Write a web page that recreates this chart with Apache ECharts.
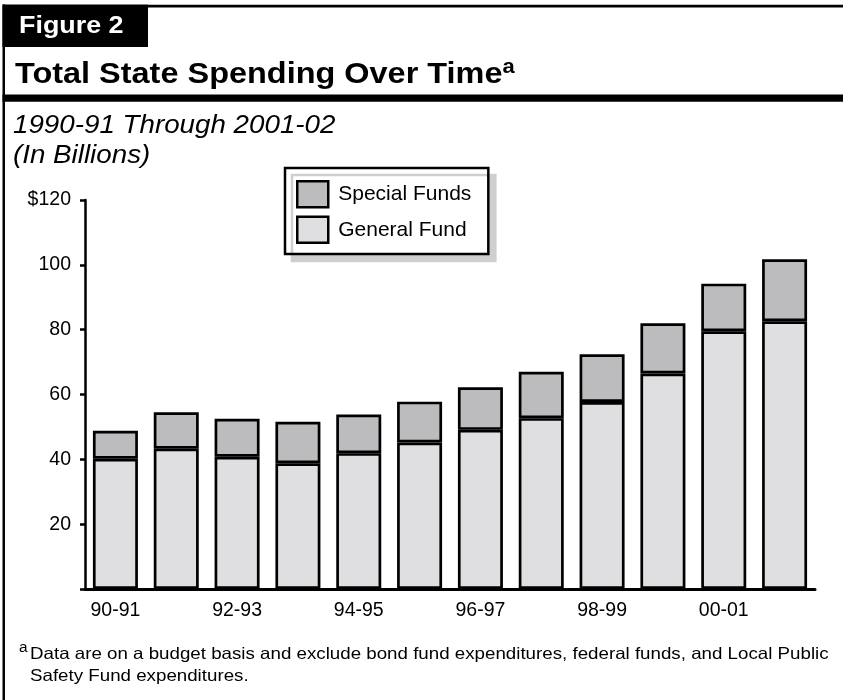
<!DOCTYPE html>
<html>
<head>
<meta charset="utf-8">
<script src="https://cdn.jsdelivr.net/npm/echarts@6/dist/echarts.min.js"></script>
<style>
  html, body { margin: 0; padding: 0; background: #fff; }
  #chart { width: 843px; height: 700px; }
</style>
</head>
<body>
<div id="chart"></div>
<script>
// Fiscal years, 1990-91 through 2001-02
const categories = ['90-91', '91-92', '92-93', '93-94', '94-95', '95-96',
                    '96-97', '97-98', '98-99', '99-00', '00-01', '01-02'];
// Spending in billions of dollars
const generalFund  = [40.2, 43.3, 40.8, 38.8, 41.9, 45.2, 49.1, 52.7, 57.7, 66.5, 79.5, 82.6];
const specialFunds = [8.6, 11.2, 11.7, 12.8, 11.9, 12.6, 13.1, 14.3, 14.7, 15.5, 14.7, 19.1];
// Value axis range and step
const yMin = 0, yMax = 120, yStep = 20;

const FONT = '"Liberation Sans", Arial, Helvetica, sans-serif';

const chart = echarts.init(document.getElementById('chart'), null, { renderer: 'canvas' });

chart.setOption({
  animation: false,
  backgroundColor: '#ffffff',
  textStyle: { fontFamily: FONT, color: '#000' },
  grid: { left: 85, right: 28, top: 200, bottom: 111, containLabel: false },
  legend: {
    data: ['Special Funds', 'General Fund'],
    orient: 'vertical',
    left: 285,
    top: 168,
    padding: [12, 17, 10, 11],
    itemWidth: 31,
    itemHeight: 26,
    itemGap: 7,
    backgroundColor: '#ffffff',
    borderColor: '#000',
    borderWidth: 2.5,
    borderRadius: 0,
    shadowColor: '#cfcfcf',
    shadowBlur: 0,
    shadowOffsetX: 7,
    shadowOffsetY: 7,
    selectedMode: false,
    icon: 'rect',
    itemStyle: { borderColor: '#000', borderWidth: 2.5 },
    textStyle: { fontFamily: FONT, fontSize: 21, color: '#000', padding: [0, 0, 0, 5] }
  },
  xAxis: {
    type: 'category',
    data: categories,
    axisLine: { show: true, lineStyle: { color: '#000', width: 3 } },
    axisTick: { show: false },
    axisLabel: { interval: 1, margin: 12, fontSize: 19.5, color: '#000', fontFamily: FONT },
    splitLine: { show: false }
  },
  yAxis: {
    type: 'value',
    min: yMin,
    max: yMax,
    interval: yStep,
    axisLine: { show: true, lineStyle: { color: '#000', width: 2.5 } },
    axisTick: { show: true, length: 5, lineStyle: { color: '#000', width: 2.5 } },
    axisLabel: {
      margin: 14,
      fontSize: 19.5,
      color: '#000',
      fontFamily: FONT,
      formatter: v => (v === yMin ? '' : (v === yMax ? '$' + v : String(v)))
    },
    splitLine: { show: false }
  },
  series: [
    {
      name: 'General Fund',
      type: 'bar',
      stack: 'total',
      data: generalFund,
      barWidth: 45,
      itemStyle: { color: '#dfdfe1', borderColor: '#000', borderWidth: 2.7 },
      emphasis: { disabled: true }
    },
    {
      name: 'Special Funds',
      type: 'bar',
      stack: 'total',
      data: specialFunds,
      barWidth: 45,
      itemStyle: { color: '#bcbcbe', borderColor: '#000', borderWidth: 2.7 },
      emphasis: { disabled: true }
    }
  ],
  graphic: [
    // outer frame: left rule, top rule, heavy rule under the title
    { type: 'rect', shape: { x: 2.5, y: 4.5, width: 2.5, height: 700 }, style: { fill: '#000' }, silent: true },
    { type: 'rect', shape: { x: 148, y: 4.8, width: 695, height: 2.6 }, style: { fill: '#000' }, silent: true },
    { type: 'rect', shape: { x: 2.5, y: 94.5, width: 841, height: 7.3 }, style: { fill: '#000' }, silent: true },
    // figure tab
    { type: 'rect', shape: { x: 2.5, y: 4.5, width: 145.5, height: 42.5 }, style: { fill: '#000' }, silent: true },
    {
      type: 'text', silent: true, x: 19, y: 26, scaleX: 1.12,
      style: { x: 0, y: 0, text: 'Figure 2', fill: '#fff', font: 'bold 24px ' + FONT, textVerticalAlign: 'middle' }
    },
    // title with superscript note marker
    {
      type: 'text', silent: true, x: 15, y: 73.5, scaleX: 1.1,
      style: {
        x: 0, y: 0,
        text: '{t|Total State Spending Over Time}{s|a}',
        textVerticalAlign: 'middle',
        rich: {
          t: { font: 'bold 29.5px ' + FONT, fill: '#000', lineHeight: 32, verticalAlign: 'bottom' },
          s: { font: 'bold 20px ' + FONT, fill: '#000', lineHeight: 20, verticalAlign: 'top', padding: [0, 0, 0, 0] }
        }
      }
    },
    // subtitle
    {
      type: 'text', silent: true, x: 13, y: 126, scaleX: 1.11,
      style: { x: 0, y: 0, text: '1990-91 Through 2001-02', fill: '#000', font: 'italic 25px ' + FONT, textVerticalAlign: 'middle' }
    },
    {
      type: 'text', silent: true, x: 13, y: 156, scaleX: 1.11,
      style: { x: 0, y: 0, text: '(In Billions)', fill: '#000', font: 'italic 25px ' + FONT, textVerticalAlign: 'middle' }
    },
    // footnote
    {
      type: 'text', silent: true, x: 19, y: 648, scaleX: 1.1,
      style: { x: 0, y: 0, text: 'a', fill: '#000', font: '14px ' + FONT, textVerticalAlign: 'middle' }
    },
    {
      type: 'text', silent: true, x: 30, y: 654, scaleX: 1.135,
      style: {
        x: 0, y: 0,
        text: 'Data are on a budget basis and exclude bond fund expenditures, federal funds, and Local Public',
        fill: '#000', font: '16.5px ' + FONT, textVerticalAlign: 'middle'
      }
    },
    {
      type: 'text', silent: true, x: 30, y: 676, scaleX: 1.135,
      style: { x: 0, y: 0, text: 'Safety Fund expenditures.', fill: '#000', font: '16.5px ' + FONT, textVerticalAlign: 'middle' }
    }
  ]
});
</script>
</body>
</html>
